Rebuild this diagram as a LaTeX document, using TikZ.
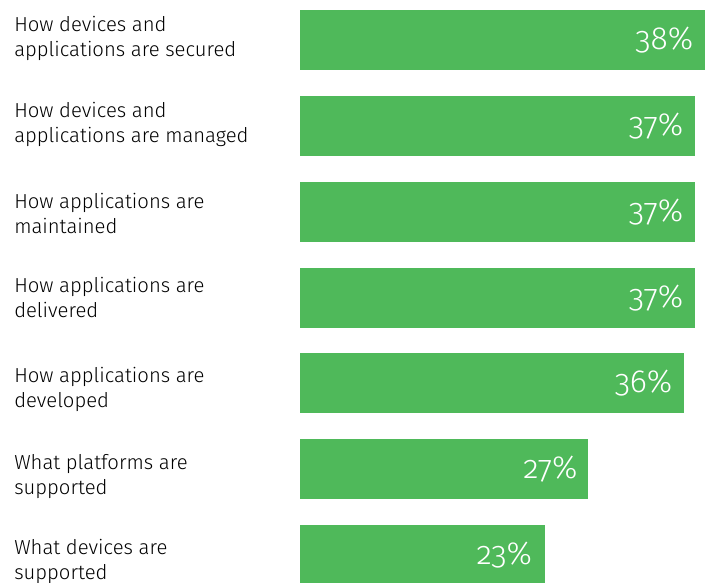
\documentclass[tikz,border=0pt]{standalone}
\usepackage{fontspec}
\setmainfont{Fira Sans}[UprightFont=* Light]
\newfontfamily\pctfont{Fira Sans}[UprightFont=* Light, Numbers=OldStyle]
\usepackage{tikz}
\usetikzlibrary{positioning,calc}

\definecolor{bargreen}{RGB}{79,185,90}

\tikzset{
    bar/.style={fill=bargreen, inner sep=0pt, minimum height=45pt, anchor=west},
    pct/.style={text=white, font=\pctfont\fontsize{24}{27}\selectfont, inner sep=0pt, anchor=east},
    lbl/.style={align=left, anchor=west, inner sep=0pt, font=\fontsize{15.2}{18.75}\selectfont}
}

\begin{document}
\begin{tikzpicture}[x=0.75pt, y=-0.75pt]
    % Canvas
    \useasboundingbox (0,0) rectangle (712,582);

    % Bars (1% = 10.66px)
    \node[bar, minimum width=303.75pt] (b1) at (300,40) {};
    \node[bar, minimum width=296.25pt] (b2) at (300,126) {};
    \node[bar, minimum width=296.25pt] (b3) at (300,212) {};
    \node[bar, minimum width=296.25pt] (b4) at (300,298) {};
    \node[bar, minimum width=288pt] (b5) at (300,383) {};
    \node[bar, minimum width=216pt] (b6) at (300,469) {};
    \node[bar, minimum width=183.75pt] (b7) at (300,555) {};

    % Values
    \node[pct] (v1) at ([xshift=-9pt]b1.east) {38\%};
    \node[pct] (v2) at ([xshift=-9pt]b2.east) {37\%};
    \node[pct] (v3) at ([xshift=-9pt]b3.east) {37\%};
    \node[pct] (v4) at ([xshift=-9pt]b4.east) {37\%};
    \node[pct] (v5) at ([xshift=-9pt]b5.east) {36\%};
    \node[pct] (v6) at ([xshift=-8pt]b6.east) {27\%};
    \node[pct] (v7) at ([xshift=-10pt]b7.east) {23\%};

    % Labels
    \node[lbl] (l1) at (14,38) {How devices and\\applications are secured};
    \node[lbl] (l2) at (14,124) {How devices and\\applications are managed};
    \node[lbl] (l3) at (14,213) {How applications are\\maintained};
    \node[lbl] (l4) at (14,297) {How applications are\\delivered};
    \node[lbl] (l5) at (14,389) {How applications are\\developed};
    \node[lbl] (l6) at (14,477) {What platforms are\\supported};
    \node[lbl] (l7) at (14,561) {What devices are\\supported};
\end{tikzpicture}
\end{document}
